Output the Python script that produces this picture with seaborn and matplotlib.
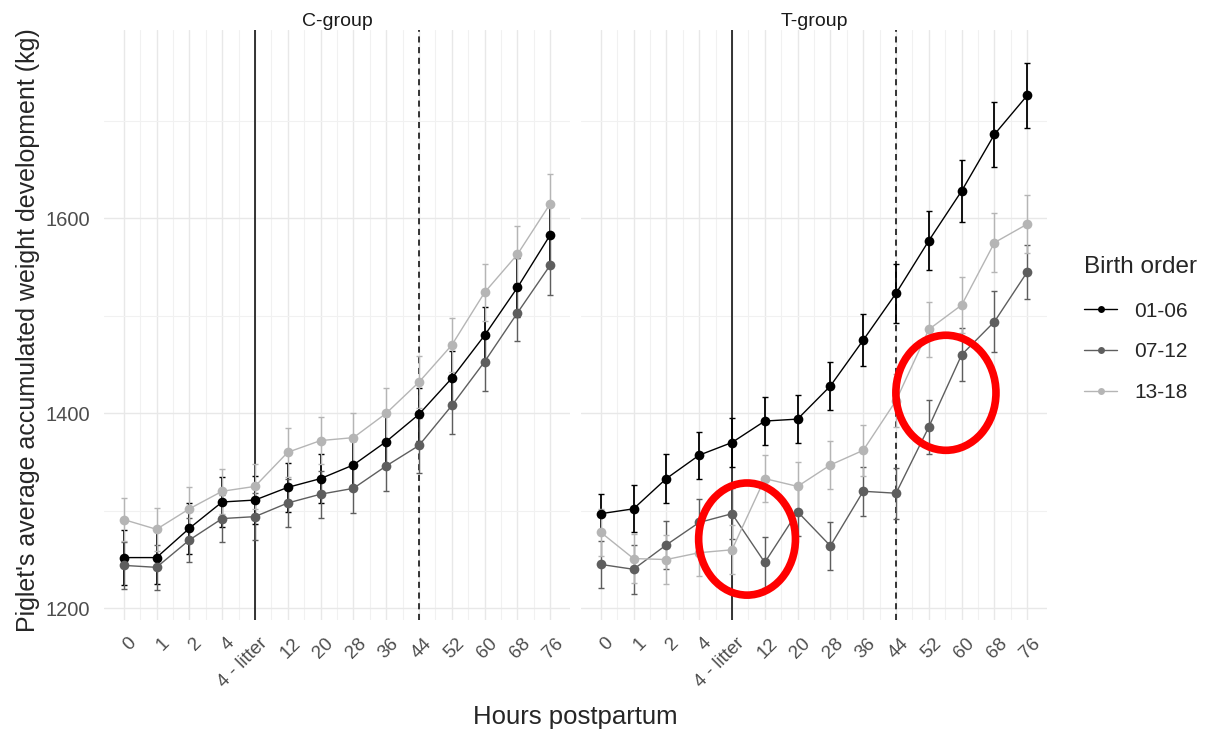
import numpy as np
import pandas as pd
import seaborn as sns
import matplotlib.pyplot as plt
from matplotlib.patches import Ellipse
from matplotlib.lines import Line2D
import matplotlib.transforms as mtransforms

hours = ['0', '1', '2', '4', '4 - litter', '12', '20', '28', '36', '44', '52', '60', '68', '76']
orders = ['01-06', '07-12', '13-18']
groups = ['C-group', 'T-group']

c_0106 = [1252, 1252, 1282, 1309, 1311, 1324, 1333, 1347, 1371, 1399, 1436, 1480, 1529, 1583]
c_0712 = [1244, 1242, 1270, 1292, 1294, 1308, 1317, 1323, 1346, 1367, 1408, 1453, 1503, 1552]
c_1318 = [1291, 1281, 1302, 1320, 1325, 1360, 1372, 1375, 1400, 1432, 1470, 1524, 1563, 1615]
t_0106 = [1297, 1302, 1333, 1357, 1370, 1392, 1394, 1428, 1475, 1523, 1577, 1628, 1686, 1726]
t_0712 = [1245, 1240, 1265, 1288, 1297, 1247, 1299, 1264, 1320, 1318, 1386, 1460, 1494, 1545]
t_1318 = [1278, 1251, 1250, 1257, 1260, 1333, 1325, 1347, 1362, 1413, 1486, 1511, 1575, 1594]

c_se_0106 = [28, 27, 26, 26, 25, 25, 25, 25, 26, 27, 28, 29, 30, 31]
c_se_0712 = [24, 23, 23, 24, 24, 25, 24, 25, 26, 28, 29, 30, 29, 31]
c_se_1318 = [22, 22, 22, 23, 23, 25, 24, 25, 26, 27, 28, 29, 29, 30]
t_se_0106 = [20, 24, 25, 24, 25, 25, 25, 25, 27, 30, 30, 32, 33, 33]
t_se_0712 = [24, 25, 25, 24, 26, 26, 25, 25, 25, 26, 28, 27, 31, 28]
t_se_1318 = [24, 25, 25, 24, 25, 24, 25, 25, 26, 27, 28, 29, 30, 30]

means = {('C-group', '01-06'): c_0106, ('C-group', '07-12'): c_0712, ('C-group', '13-18'): c_1318,
         ('T-group', '01-06'): t_0106, ('T-group', '07-12'): t_0712, ('T-group', '13-18'): t_1318}
ses = {('C-group', '01-06'): c_se_0106, ('C-group', '07-12'): c_se_0712, ('C-group', '13-18'): c_se_1318,
       ('T-group', '01-06'): t_se_0106, ('T-group', '07-12'): t_se_0712, ('T-group', '13-18'): t_se_1318}

rows = []
for (g, o), vals in means.items():
    for i, h in enumerate(hours):
        rows.append({'group': g, 'order': o, 'hour': h, 'pos': i,
                     'weight': vals[i], 'se': ses[(g, o)][i]})
data = pd.DataFrame(rows)

palette = {'01-06': '#000000', '07-12': '#5e5e5e', '13-18': '#b5b5b5'}

sns.set_theme(style='white')
plt.rcParams['font.family'] = ['Liberation Sans', 'DejaVu Sans']

fig = plt.figure(figsize=(12.06, 7.30), dpi=100)
W, H = 1206, 730
axes = []
for left in [104, 581]:
    axes.append(fig.add_axes([left / W, 1 - 620 / H, 466 / W, 590 / H]))

for ax, g in zip(axes, groups):
    sub = data[data['group'] == g]
    ax.set_xlim(-0.6, len(hours) - 0.4)
    ax.set_ylim(1188, 1793)
    ax.set_xticks(range(len(hours)))
    ax.set_xticks(np.arange(len(hours) - 1) + 0.5, minor=True)
    ax.set_yticks([1200, 1400, 1600])
    ax.set_yticks([1300, 1500, 1700], minor=True)
    ax.grid(which='major', color='#e8e8e8', lw=1.0)
    ax.grid(which='minor', color='#f1f1f1', lw=0.8)
    ax.set_axisbelow(True)
    for s in ax.spines.values():
        s.set_visible(False)
    ax.tick_params(which='both', length=0)

    ax.axvline(hours.index('4 - litter'), color='black', lw=1.1, zorder=1)
    ax.axvline(hours.index('44'), color='black', lw=1.1, ls=(0, (4, 3)), zorder=1)

    for o in orders:
        d = sub[sub['order'] == o]
        ax.errorbar(d['pos'], d['weight'], yerr=d['se'], fmt='none',
                    ecolor=palette[o], elinewidth=1.3 if o == '01-06' else 1.0,
                    capsize=2, capthick=1, zorder=2)
    sns.lineplot(data=sub, x='pos', y='weight', hue='order', hue_order=orders,
                 palette=palette, marker='o', markersize=7, markeredgewidth=0,
                 lw=1.0, sort=False, legend=False, ax=ax, zorder=3)

    ax.set_xticklabels(hours, rotation=45, ha='right', va='center',
                       rotation_mode='anchor', fontsize=13.5, color='#4d4d4d')
    offset = mtransforms.ScaledTranslation(10 / 100, -16 / 100, fig.dpi_scale_trans)
    for lab in ax.get_xticklabels():
        lab.set_transform(lab.get_transform() + offset)
    ax.set_xlabel('')
    ax.set_ylabel('')
    ax.set_title(g, fontsize=14, color='#1a1a1a', pad=3)

axes[0].tick_params(axis='y', labelsize=14.5, labelcolor='#4d4d4d', pad=10)
axes[1].set_yticklabels([])

# red highlight circles on the T-group panel
for cx, cy, w, h in [(4.46, 1271, 2.95, 115), (10.52, 1421, 3.05, 118)]:
    axes[1].add_patch(Ellipse((cx, cy), w, h, fill=False, edgecolor='#ff0000',
                              lw=5.5, zorder=5, clip_on=False))

fig.text(575 / W, 1 - 717 / H, 'Hours postpartum', ha='center', va='center', fontsize=18.5)
fig.text(28 / W, 1 - 330 / H, "Piglet's average accumulated weight development (kg)",
         ha='center', va='center', rotation=90, fontsize=18)

handles = [Line2D([0], [0], color=palette[o], lw=1.0, marker='o', markersize=5,
                  markeredgewidth=0) for o in orders]
leg = fig.legend(handles, orders, title='Birth order', loc='upper left',
                 bbox_to_anchor=(1084 / W, 1 - 256 / H), frameon=False,
                 fontsize=15, title_fontsize=17.5, labelspacing=1.05,
                 handlelength=1.6, handletextpad=0.8, borderpad=0, borderaxespad=0)
leg._legend_box.align = 'left'
leg._legend_box.sep = 17

fig.savefig('out.png', dpi=100)
